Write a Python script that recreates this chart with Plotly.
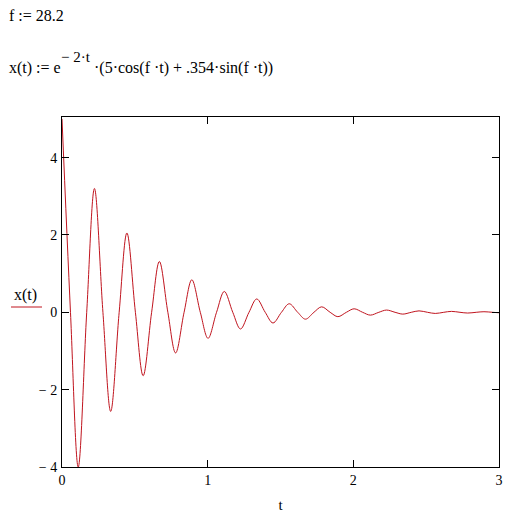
import plotly.graph_objects as go

# extrema and zero crossings of x(t)
t_vals = [0.0000, 0.0582, 0.1114, 0.1696, 0.2228, 0.2810, 0.3342, 0.3924, 0.4456, 0.5039,
          0.5571, 0.6153, 0.6685, 0.7267, 0.7799, 0.8381, 0.8913, 0.9495, 1.0027, 1.0609,
          1.1141, 1.1723, 1.2255, 1.2837, 1.3369, 1.3951, 1.4483, 1.5066, 1.5597, 1.6180,
          1.6712, 1.7294, 1.7826, 1.8408, 1.8940, 1.9522, 2.0054, 2.0636, 2.1168, 2.1750,
          2.2282, 2.2864, 2.3396, 2.3978, 2.4510, 2.5093, 2.5624, 2.6207, 2.6738, 2.7321,
          2.7853, 2.8435, 2.8967, 2.9549, 3.0000]
x_vals = [5.000, 0, -4.001, 0, 3.202, 0, -2.563, 0, 2.051, 0,
          -1.641, 0, 1.313, 0, -1.051, 0, 0.841, 0, -0.673, 0,
          0.539, 0, -0.431, 0, 0.345, 0, -0.276, 0, 0.221, 0,
          -0.177, 0, 0.1415, 0, -0.113, 0, 0.0906, 0, -0.0725, 0,
          0.058, 0, -0.0464, 0, 0.0372, 0, -0.0297, 0, 0.0238, 0,
          -0.019, 0, 0.0152, 0, -0.0119]

x_ticks = [0, 1, 2, 3]
y_ticks = [4, 2, 0, -2, -4]
y_labels = ["4", "2", "0", "\u2212 2", "\u2212 4"]

serif = "Liberation Serif, Times New Roman, serif"
red = "#c0141e"

# plot area on screen (page has an 8px body margin)
L, R, T, B = 62, 499, 117, 467
W, H = R - L, B - T


def px(x):
    return (x - L) / W


def py(y):
    return (B - y) / H


fig = go.Figure()
fig.add_trace(go.Scatter(
    x=t_vals, y=x_vals, mode="lines",
    line=dict(color=red, width=1, shape="spline", smoothing=1.0),
    showlegend=False, hoverinfo="skip"
))

axis_common = dict(
    showgrid=False, zeroline=False, showline=True, linecolor="black", linewidth=1,
    mirror="ticks", ticks="inside", ticklen=7, tickcolor="black", tickwidth=1,
    tickfont=dict(family=serif, size=14, color="black"),
)

fig.update_layout(
    width=511, height=513,
    margin=dict(l=L - 8, r=511 - (R - 8), t=T - 8, b=513 - (B - 8)),
    paper_bgcolor="white", plot_bgcolor="white",
    font=dict(family=serif, color="black"),
    xaxis=dict(range=[0, 3], tickvals=x_ticks, ticktext=[str(v) for v in x_ticks],
               title=dict(text="t", font=dict(family=serif, size=15, color="black"), standoff=12),
               **axis_common),
    yaxis=dict(range=[-4, 5.05], tickvals=y_ticks, ticktext=y_labels, ticklabelstandoff=1,
               **axis_common),
)


def note(text, x, y, size=16, anchor="left"):
    fig.add_annotation(text=text, xref="paper", yref="paper", x=px(x), y=py(y),
                       xanchor=anchor, yanchor="middle", showarrow=False,
                       font=dict(family=serif, size=size, color="black"))


# worksheet text above the plot
note("f := 28.2", 7, 15)
note("x(t) := e", 7, 68)
note("\u2212 2\u00b7t", 59, 57, size=15)
note("\u00b7(5\u00b7cos(f \u00b7t) + .354\u00b7sin(f \u00b7t))", 92, 68)

# legend label with line sample
note("x(t)", 25, 295, anchor="center")
fig.add_shape(type="line", xref="paper", yref="paper",
              x0=px(11), x1=px(42), y0=py(307), y1=py(307),
              line=dict(color=red, width=1))

fig.write_html("out.html")
